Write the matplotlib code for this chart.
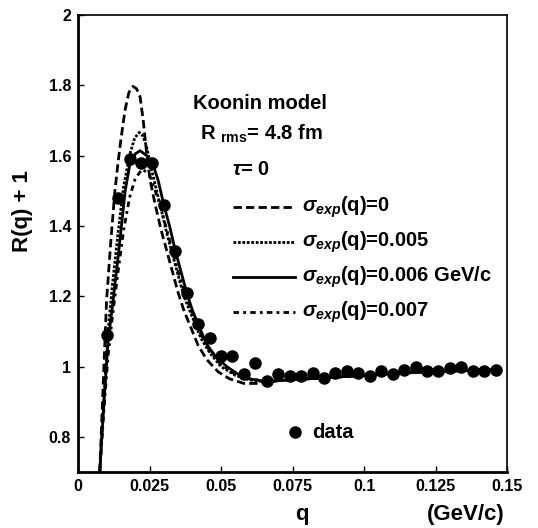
import numpy as np
import matplotlib
matplotlib.use("Agg")
import matplotlib.pyplot as plt

plt.rcParams['font.family'] = ['Liberation Sans', 'DejaVu Sans']
plt.rcParams['font.weight'] = 'bold'
plt.rcParams['mathtext.fontset'] = 'custom'
plt.rcParams['mathtext.rm'] = 'Liberation Sans:bold'
plt.rcParams['mathtext.it'] = 'Liberation Sans:italic:bold'
plt.rcParams['mathtext.bf'] = 'Liberation Sans:bold'

# measured data
q_data = [0.010, 0.014, 0.018, 0.022, 0.026, 0.030, 0.034, 0.038, 0.042, 0.046,
          0.050, 0.054, 0.058, 0.062, 0.066, 0.070, 0.074, 0.078, 0.082, 0.086,
          0.090, 0.094, 0.098, 0.102, 0.106, 0.110, 0.114, 0.118, 0.122, 0.126,
          0.130, 0.134, 0.138, 0.142, 0.146]
r_data = [1.09, 1.48, 1.59, 1.58, 1.58, 1.46, 1.33, 1.21, 1.12, 1.08,
          1.03, 1.03, 0.98, 1.01, 0.96, 0.978, 0.973, 0.973, 0.981, 0.967,
          0.981, 0.986, 0.981, 0.974, 0.988, 0.978, 0.991, 1.0, 0.986, 0.986,
          0.995, 1.0, 0.986, 0.988, 0.991]

# common tail of the model curves
q_tail = [0.070, 0.080, 0.090, 0.100, 0.110, 0.120, 0.130, 0.140, 0.147]
r_tail = [0.960, 0.965, 0.970, 0.975, 0.980, 0.984, 0.987, 0.990, 0.992]

# sigma_exp = 0
q_s0 = [0.0076, 0.0088, 0.0100, 0.0115, 0.0129, 0.0140, 0.0149, 0.0164, 0.0178,
        0.0192, 0.0205, 0.0217, 0.0228, 0.0240, 0.0252, 0.027, 0.029, 0.031,
        0.033, 0.035, 0.037, 0.039, 0.042, 0.045, 0.049, 0.053, 0.058, 0.064]
r_s0 = [0.70, 0.95, 1.19, 1.36, 1.50, 1.58, 1.64, 1.728, 1.78,
        1.797, 1.79, 1.767, 1.70, 1.606, 1.53, 1.46, 1.39, 1.33,
        1.27, 1.21, 1.16, 1.12, 1.06, 1.02, 0.985, 0.965, 0.952, 0.952]

# sigma_exp = 0.005
q_s5 = [0.0076, 0.009, 0.0105, 0.012, 0.014, 0.0159, 0.017, 0.0182, 0.0198,
        0.0214, 0.0228, 0.024, 0.0258, 0.0275, 0.029, 0.031, 0.033, 0.035,
        0.037, 0.040, 0.043, 0.046, 0.050, 0.055, 0.060, 0.066]
r_s5 = [0.70, 0.90, 1.10, 1.23, 1.38, 1.51, 1.557, 1.606, 1.65,
        1.666, 1.655, 1.624, 1.557, 1.50, 1.45, 1.38, 1.32, 1.26,
        1.20, 1.14, 1.08, 1.04, 1.00, 0.975, 0.962, 0.956]

# sigma_exp = 0.006 GeV/c
q_s6 = [0.0076, 0.009, 0.0105, 0.012, 0.014, 0.0165, 0.018, 0.020, 0.0217,
        0.024, 0.026, 0.028, 0.030, 0.032, 0.034, 0.036, 0.038, 0.040,
        0.042, 0.045, 0.048, 0.052, 0.056, 0.060, 0.066]
r_s6 = [0.70, 0.89, 1.07, 1.17, 1.31, 1.50, 1.57, 1.605, 1.614,
        1.60, 1.58, 1.53, 1.46, 1.40, 1.33, 1.27, 1.21, 1.16,
        1.12, 1.063, 1.03, 1.00, 0.978, 0.965, 0.957]

# sigma_exp = 0.007
q_s7 = [0.0076, 0.009, 0.0105, 0.012, 0.014, 0.016, 0.018, 0.020, 0.0225,
        0.025, 0.027, 0.029, 0.031, 0.033, 0.035, 0.037, 0.040, 0.043,
        0.046, 0.050, 0.055, 0.060, 0.066]
r_s7 = [0.70, 0.87, 1.03, 1.14, 1.27, 1.39, 1.48, 1.535, 1.562,
        1.545, 1.50, 1.45, 1.39, 1.33, 1.27, 1.215, 1.15, 1.09,
        1.045, 1.005, 0.978, 0.965, 0.958]

xticks = [0, 0.025, 0.05, 0.075, 0.1, 0.125, 0.15]
xlabels = ['0', '0.025', '0.05', '0.075', '0.1', '0.125', '0.15']
yticks = [0.8, 1.0, 1.2, 1.4, 1.6, 1.8, 2.0]
ylabels = ['0.8', '1', '1.2', '1.4', '1.6', '1.8', '2']

styles = [(0, (3, 1.5)), (0, (1, 0.6)), '-', (0, (2, 1.5, 1, 1.5))]
names = [r'$\sigma_{exp}$(q)=0', r'$\sigma_{exp}$(q)=0.005',
         r'$\sigma_{exp}$(q)=0.006 GeV/c', r'$\sigma_{exp}$(q)=0.007']

fig = plt.figure(figsize=(5.38, 5.28), dpi=100)
ax = fig.add_axes([0.145, 0.106, 0.7976, 0.8656])

curves = [(q_s0, r_s0), (q_s5, r_s5), (q_s6, r_s6), (q_s7, r_s7)]
for (qq, rr), ls in zip(curves, styles):
    ax.plot(list(qq) + q_tail, list(rr) + r_tail, color='black', lw=2, ls=ls)

ax.plot(q_data, r_data, 'o', color='black', ms=8)

ax.set_xlim(0, 0.15)
ax.set_ylim(0.7, 2.0)
ax.set_xticks(xticks)
ax.set_xticklabels(xlabels)
ax.set_yticks(yticks)
ax.set_yticklabels(ylabels)
ax.tick_params(direction='in', length=4, width=1, labelsize=11.5, pad=5)
for lab in ax.get_xticklabels() + ax.get_yticklabels():
    lab.set_fontweight('bold')
ax.spines['left'].set_linewidth(2)
ax.spines['bottom'].set_linewidth(2)
ax.spines['top'].set_linewidth(1.2)
ax.spines['right'].set_linewidth(1.2)

fig.text(0.041, 0.60, 'R(q) + 1', fontsize=16, fontweight='bold', rotation=90,
         ha='center', va='center')
fig.text(0.561, 0.025, 'q', fontsize=16, fontweight='bold', ha='center', va='center')
fig.text(0.866, 0.025, '(GeV/c)', fontsize=16, fontweight='bold', ha='center', va='center')

# annotations
fs = 14.5
ax.text(0.268, 0.807, 'Koonin model', transform=ax.transAxes, fontsize=fs,
        fontweight='bold', va='center')
ax.text(0.284, 0.74, r'R $_{\rm rms}$= 4.8 fm', transform=ax.transAxes, fontsize=fs,
        fontweight='bold', va='center')
ax.text(0.359, 0.663, r'$\tau$= 0', transform=ax.transAxes, fontsize=fs,
        fontweight='bold', va='center')

ys = [0.580, 0.503, 0.427, 0.350]
for y, ls, name in zip(ys, styles, names):
    ax.plot([0.361, 0.505], [y, y], transform=ax.transAxes, color='black', lw=2, ls=ls)
    ax.text(0.522, y, name, transform=ax.transAxes, fontsize=fs,
            fontweight='bold', va='center')

ax.plot([0.506], [0.0875], 'o', color='black', ms=8, transform=ax.transAxes)
ax.text(0.545, 0.0875, 'data', transform=ax.transAxes, fontsize=fs,
        fontweight='bold', va='center')

fig.savefig('out.png', dpi=100)
